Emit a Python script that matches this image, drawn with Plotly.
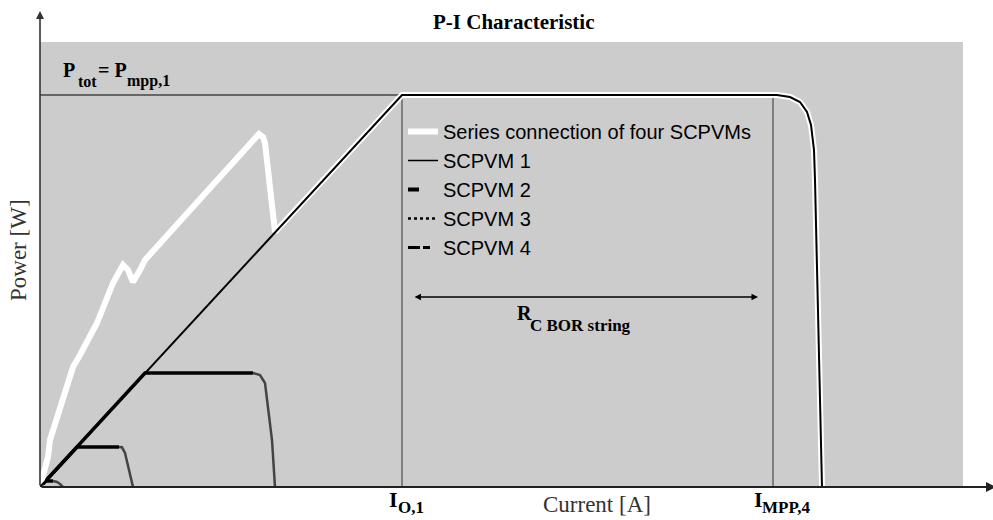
import plotly.graph_objects as go

# ---------------- data (current [A] , power [W], arbitrary units) ----------------
series_x = [0, 0.02, 0.08, 0.10, 0.15, 0.23, 0.33, 0.40, 0.57, 0.73, 0.80, 0.83, 0.88, 0.93,
            1.00, 1.05, 1.23, 1.70, 2.15, 2.19, 2.23, 2.25, 2.35, 3.62, 7.37, 7.50, 7.60,
            7.67, 7.71, 7.74, 7.75, 7.78, 7.80, 7.82]
series_y = [0, 0.07, 0.30, 0.47, 0.64, 0.87, 1.20, 1.32, 1.64, 2.04, 2.19, 2.22, 2.17, 2.05,
            2.17, 2.27, 2.47, 3.00, 3.50, 3.53, 3.50, 3.44, 2.55, 3.92, 3.92, 3.90, 3.85,
            3.75, 3.62, 3.37, 3.07, 1.87, 0.87, 0]

m1_x = [0, 3.62, 7.37, 7.50, 7.60, 7.67, 7.71, 7.74, 7.75, 7.78, 7.80, 7.82]
m1_y = [0, 3.92, 3.92, 3.90, 3.85, 3.75, 3.62, 3.37, 3.07, 1.87, 0.87, 0]

m2_rise_x = [0, 1.05, 2.13]
m2_rise_y = [0, 1.14, 1.14]
m2_drop_x = [2.13, 2.20, 2.25, 2.28, 2.32, 2.35]
m2_drop_y = [1.14, 1.12, 1.04, 0.80, 0.47, 0]

m3_rise_x = [0, 0.37, 0.79]
m3_rise_y = [0, 0.40, 0.40]
m3_drop_x = [0.79, 0.82, 0.85, 0.88, 0.93]
m3_drop_y = [0.40, 0.397, 0.34, 0.20, 0]

m4_rise_x = [0, 0.055, 0.13]
m4_rise_y = [0, 0.06, 0.06]
m4_drop_x = [0.13, 0.17, 0.20, 0.22, 0.23]
m4_drop_y = [0.06, 0.05, 0.03, 0.01, 0]

p_tot = 3.92
i_o1 = 3.62
i_mpp4 = 7.33
r_span = [3.73, 7.18]
r_level = 1.90

legend_names = ["Series connection of four SCPVMs", "SCPVM 1", "SCPVM 2", "SCPVM 3", "SCPVM 4"]

# ---------------- helpers ----------------
def X(px):
    return (px - 40) / 100.0

def Y(py):
    return (487 - py) / 100.0

def XP(px):
    return (px - 40) / 953.0

def YP(py):
    return (487 - py) / 477.0

SERIF = "Liberation Serif, Times New Roman, serif"
SANS = "Liberation Sans, Arial, sans-serif"

fig = go.Figure()

def line(x, y, color, width, dash="solid"):
    fig.add_trace(go.Scatter(x=x, y=y, mode="lines", showlegend=False, hoverinfo="skip",
                             line=dict(color=color, width=width, dash=dash, shape="linear")))

# reference lines
line([0, i_o1], [p_tot, p_tot], "black", 1.2)
line([i_o1, i_o1], [0, p_tot], "#555555", 1.3)
line([i_mpp4, i_mpp4], [0, p_tot - 0.02], "#555555", 1.3)

# module curves
line(m4_rise_x, m4_rise_y, "black", 3.5)
line(m4_drop_x, m4_drop_y, "#444444", 2.5)
line(m3_rise_x, m3_rise_y, "black", 3.5)
line(m3_drop_x, m3_drop_y, "#444444", 2.5)
line(m2_rise_x, m2_rise_y, "black", 3.5)
line(m2_drop_x, m2_drop_y, "#444444", 2.5)

# series curve (white) and SCPVM 1 on top
line(series_x, series_y, "white", 6)
line(m1_x, m1_y, "black", 2)

# legend entries
legend_styles = [
    dict(color="white", width=6, dash="solid"),
    dict(color="black", width=1.5, dash="solid"),
    dict(color="black", width=4, dash="11px,30px"),
    dict(color="black", width=2.5, dash="3px,3px"),
    dict(color="black", width=3, dash="12px,3px,7px,30px"),
]
for i, (nm, st) in enumerate(zip(legend_names, legend_styles)):
    fig.add_trace(go.Scatter(x=[None], y=[None], mode="lines", name=nm, line=st,
                             legendgroup=f"g{i}"))

shapes = [
    dict(type="rect", xref="x", yref="y", x0=0, x1=X(963), y0=0, y1=Y(42),
         fillcolor="#cccccc", line=dict(width=0), layer="below"),
]

ann = []
# axes with arrows
ann.append(dict(x=X(40), y=Y(11), ax=X(40), ay=0, xref="x", yref="y", axref="x", ayref="y",
                text="", showarrow=True, arrowhead=2, arrowsize=1, arrowwidth=1.6, arrowcolor="#333333"))
ann.append(dict(x=X(996), y=0, ax=0, ay=0, xref="x", yref="y", axref="x", ayref="y",
                text="", showarrow=True, arrowhead=2, arrowsize=1, arrowwidth=2, arrowcolor="#222222"))
# R arrow (double headed)
ann.append(dict(x=r_span[1], y=r_level, ax=r_span[0], ay=r_level, xref="x", yref="y", axref="x", ayref="y",
                text="", showarrow=True, arrowhead=2, startarrowhead=2, arrowside="end+start",
                arrowsize=1, arrowwidth=1.3, arrowcolor="black"))

def txt(t, px, py, size, xanchor="left", bold=True, family=SERIF, color="black", angle=0):
    ann.append(dict(x=XP(px), y=YP(py), xref="paper", yref="paper", text=(f"<b>{t}</b>" if bold else t),
                    showarrow=False, xanchor=xanchor, yanchor="middle", textangle=angle,
                    font=dict(family=family, size=size, color=color)))

# title
txt("P-I Characteristic", 514, 22, 21, xanchor="center")
# P_tot = P_mpp,1
txt("P", 61, 70, 20)
txt("tot", 76, 81, 16)
txt("= P", 96, 70, 20)
txt("mpp,1", 125, 81, 16)
# R_C BOR string
txt("R", 515, 313, 20)
txt("C BOR string", 528, 325, 17)
# x tick labels
txt("I", 387, 500, 22)
txt("O,1", 396, 507, 17)
txt("I", 752, 500, 22)
txt("MPP,4", 760, 507, 17)
# axis titles
txt("Current [A]", 597, 504, 23, xanchor="center", bold=False, color="#333333")
txt("Power [W]", 18, 250, 23, xanchor="center", bold=False, color="#333333", angle=-90)

fig.update_layout(
    width=993, height=520,
    margin=dict(l=40, r=0, t=10, b=33, pad=0),
    paper_bgcolor="white", plot_bgcolor="white",
    xaxis=dict(range=[0, 9.53], visible=False, fixedrange=True),
    yaxis=dict(range=[0, 4.77], visible=False, fixedrange=True),
    shapes=shapes, annotations=ann,
    legend=dict(x=XP(403), y=YP(112), xanchor="left", yanchor="top",
                bgcolor="rgba(0,0,0,0)", borderwidth=0, traceorder="grouped", tracegroupgap=0,
                font=dict(family=SANS, size=20, color="black"), itemwidth=30),
    showlegend=True,
)

fig.write_html("out.html")
